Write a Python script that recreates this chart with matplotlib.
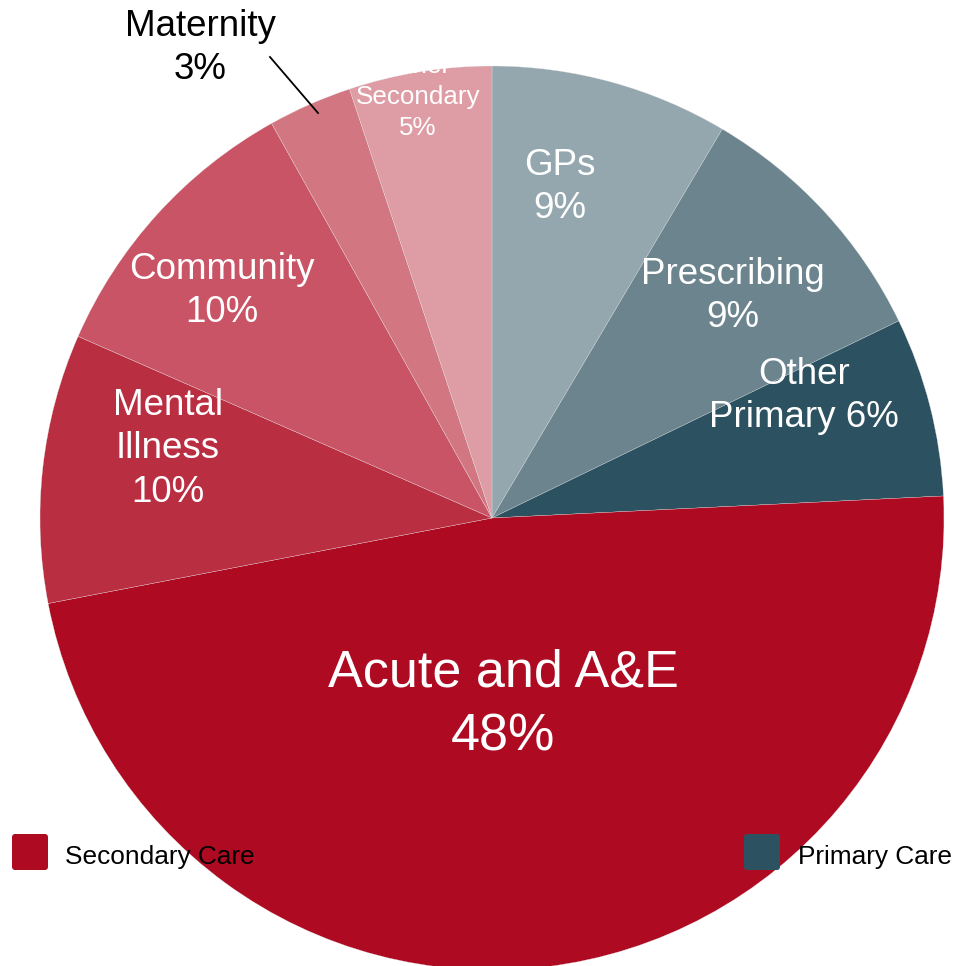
#------------------------------------------------------------------------
# NHS SPEND SPLIT - PIE CHART
#------------------------------------------------------------------------
import matplotlib
matplotlib.use("Agg")
import matplotlib.pyplot as plt
from matplotlib.patches import FancyBboxPatch

plt.rcParams['font.family'] = ['Liberation Sans', 'DejaVu Sans']

#------------------------------------------------------------------------
# DATA (clockwise from 12 o'clock)
categories = ['GPs', 'Prescribing', 'Other Primary', 'Acute and A&E',
              'Mental Illness', 'Community', 'Maternity', 'Other Secondary']
shares = [8.5, 9.3, 6.4, 47.7, 9.6, 10.3, 3.0, 5.1]
shown_pct = [9, 9, 6, 48, 10, 10, 3, 5]
groups = ['Primary Care', 'Secondary Care']
#------------------------------------------------------------------------

#------------------------------------------------------------------------
# STYLE
colors = ['#95A7AE', '#6B848D', '#2C5261', '#AE0B22',
          '#BA2E42', '#C85465', '#D27782', '#DE9CA5']
W, H = 957, 966
cx, cy, R = 492, H - 518, 452

# label text and position (pixels, from top-left), font size, line spacing
label_text = ['GPs\n{}%', 'Prescribing\n{}%', 'Other\nPrimary {}%', 'Acute and A&E\n{}%',
              'Mental\nIllness\n{}%', 'Community\n{}%', 'Maternity\n{}%', 'Other\nSecondary\n{}%']
label_pos = [(560, 187), (733, 296), (804, 396), (503, 705),
             (168, 449), (222, 291), (200, 48), (418, 97)]
label_size = [26.5, 26.5, 26.5, 37.5, 26.5, 26.5, 26.5, 18.7]
label_ls = [1.33, 1.33, 1.33, 1.42, 1.33, 1.33, 1.33, 1.38]
label_col = ['white'] * 6 + ['black', 'white']
#------------------------------------------------------------------------

fig = plt.figure(figsize=(W / 100, H / 100), dpi=100)
ax = fig.add_axes([0, 0, 1, 1])

wedges, _ = ax.pie(shares, colors=colors, startangle=90, counterclock=False,
                   center=(cx, cy), radius=R,
                   wedgeprops=dict(edgecolor='#e8e8e8', linewidth=0.2))
ax.set_xlim(0, W)
ax.set_ylim(0, H)
ax.set_aspect('equal')
ax.axis('off')

for txt, p, (x, y), fs, ls, c in zip(label_text, shown_pct, label_pos,
                                     label_size, label_ls, label_col):
    ax.text(x, H - y, txt.format(p), ha='center', va='center', fontsize=fs,
            color=c, linespacing=ls, multialignment='center')

# leader line for Maternity
ax.plot([270, 318], [H - 57, H - 113], color='black', lw=1.3)

#------------------------------------------------------------------------
# LEGEND (two separate keys)
legend_items = [(groups[1], colors[3], 12, 65), (groups[0], colors[2], 744, 798)]
for name, col, x0, xt in legend_items:
    box = FancyBboxPatch((x0 + 3, H - 870 + 3), 30, 30,
                         boxstyle='round,pad=3', facecolor=col, edgecolor='none')
    ax.add_patch(box)
    ax.text(xt, H - 857, name, ha='left', va='center', fontsize=18.9, color='black')
#------------------------------------------------------------------------

fig.savefig('out.png', dpi=100)
